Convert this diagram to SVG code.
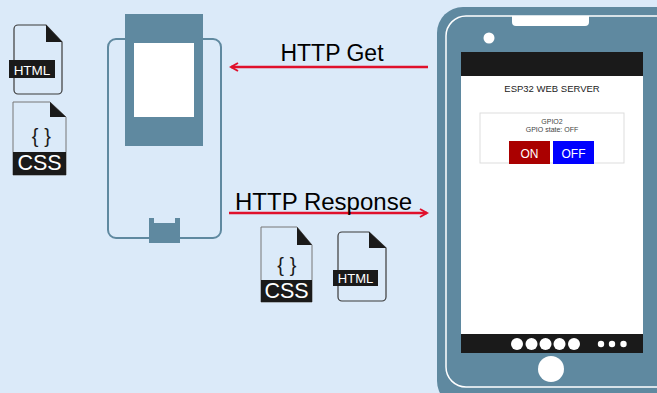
<svg xmlns="http://www.w3.org/2000/svg" width="657" height="393" viewBox="0 0 657 393">
  <style>
    .steel { fill: #5f89a0; }
    .icon-line { fill: none; stroke: #3a3a3a; stroke-width: 1.2; }
    .fold { fill: #1a1a1a; }
    .bar { fill: #1a1a1a; }
    .label-w { fill: #ffffff; font-family: "Liberation Sans", Arial, sans-serif; }
    .brace { fill: #1a1a1a; font-family: "Liberation Sans", Arial, sans-serif; font-size: 20px; }
    .http { fill: #000000; font-family: "Liberation Sans", Arial, sans-serif; font-size: 23px; }
    .arrow { stroke: #e0102c; stroke-width: 2.5; fill: none; }
    .ui { font-family: "Liberation Sans", Arial, sans-serif; }
  </style>
  <defs>
    <marker id="head" viewBox="0 0 10 10" refX="8" refY="5" markerWidth="4" markerHeight="4" orient="auto-start-reverse" markerUnits="strokeWidth">
      <path d="M1,1 L8,5 L1,9" fill="none" stroke="#e0102c" stroke-width="2"/>
    </marker>
  </defs>

  <rect width="657" height="393" fill="#dbeaf9"/>

  <!-- HTML file icon, top left -->
  <g id="html-icon-left">
    <path class="icon-line" d="M18,25 H46 L62,42 V90 a4,4 0 0 1 -4,4 H18 a4,4 0 0 1 -4,-4 V29 a4,4 0 0 1 4,-4 Z"/>
    <path class="fold" d="M46,25 L62,42 H46 Z"/>
    <rect class="bar" x="9" y="60" width="46" height="18"/>
    <text class="label-w" x="32" y="75" font-size="13.5" text-anchor="middle">HTML</text>
  </g>

  <!-- CSS file icon, left -->
  <g id="css-icon-left">
    <path d="M13,102 H50 L66,117 V175 H13 Z" fill="none" stroke="#777" stroke-width="1"/>
    <path class="fold" d="M50,102 L66,117 H50 Z"/>
    <text class="brace" x="35" y="143" text-anchor="middle">{</text>
    <text class="brace" x="47.5" y="143" text-anchor="middle">}</text>
    <rect class="bar" x="13" y="152" width="53" height="23"/>
    <text class="label-w" x="39.5" y="170" font-size="21.5" text-anchor="middle">CSS</text>
  </g>

  <!-- ESP32 board -->
  <g id="esp32-board">
    <rect x="108" y="39" width="113" height="199" rx="8" fill="none" stroke="#5f89a0" stroke-width="2"/>
    <rect class="steel" x="125" y="14" width="78" height="132"/>
    <rect x="134" y="43" width="60" height="74" fill="#ffffff"/>
    <path class="steel" d="M149,218 H154 V223 H175 V218 H180 V243 H149 Z"/>
  </g>

  <!-- Smartphone with web page -->
  <g id="phone">
    <rect class="steel" x="437" y="7" width="250" height="400" rx="26"/>
    <rect x="446" y="16" width="230" height="371" rx="20" fill="none" stroke="#ffffff" stroke-width="1.5"/>
    <path d="M512,16 H589 V22 a4,4 0 0 1 -4,4 H516 a4,4 0 0 1 -4,-4 Z" fill="#ffffff"/>
    <circle cx="489" cy="38" r="5.5" fill="#ffffff"/>
    <rect x="461" y="52" width="182" height="301" fill="#ffffff"/>
    <rect x="461" y="52" width="182" height="24" fill="#1a1a1a"/>
    <rect x="461" y="334" width="182" height="19" fill="#1a1a1a"/>
    <g fill="#ffffff">
      <circle cx="517" cy="344" r="6"/>
      <circle cx="531.5" cy="344" r="6"/>
      <circle cx="545.5" cy="344" r="6"/>
      <circle cx="559.5" cy="344" r="6"/>
      <circle cx="574" cy="344" r="6"/>
      <circle cx="601" cy="344" r="3.2"/>
      <circle cx="612" cy="344" r="3.2"/>
      <circle cx="623.5" cy="344" r="3.2"/>
    </g>
    <circle cx="551" cy="369" r="13" fill="#ffffff"/>

    <text class="ui" x="552" y="92" font-size="9.5" fill="#222" text-anchor="middle">ESP32 WEB SERVER</text>
    <rect x="480" y="113" width="144" height="50" fill="#ffffff" stroke="#dddddd" stroke-width="1"/>
    <text class="ui" x="552" y="124" font-size="7" fill="#444" text-anchor="middle">GPIO2</text>
    <text class="ui" x="552" y="131.5" font-size="7" fill="#444" text-anchor="middle">GPIO state: OFF</text>
    <rect x="509" y="141" width="41" height="23" fill="#aa0000"/>
    <text class="ui" x="529.5" y="158" font-size="12" fill="#ffffff" text-anchor="middle">ON</text>
    <rect x="553" y="141" width="41" height="23" fill="#0000ff"/>
    <text class="ui" x="573.5" y="158" font-size="12" fill="#ffffff" text-anchor="middle">OFF</text>
  </g>

  <!-- CSS file icon, response -->
  <g id="css-icon-response">
    <path d="M261,227 H297 L312,245 V302 H261 Z" fill="none" stroke="#777" stroke-width="1"/>
    <path class="fold" d="M297,227 L312,245 H297 Z"/>
    <text class="brace" x="280.5" y="272" text-anchor="middle">{</text>
    <text class="brace" x="293" y="272" text-anchor="middle">}</text>
    <rect class="bar" x="261" y="280" width="51" height="22"/>
    <text class="label-w" x="286.5" y="298" font-size="21.5" text-anchor="middle">CSS</text>
  </g>

  <!-- HTML file icon, response -->
  <g id="html-icon-response">
    <path class="icon-line" d="M342,232 H369 L386,248 V297 a4,4 0 0 1 -4,4 H342 a4,4 0 0 1 -4,-4 V236 a4,4 0 0 1 4,-4 Z"/>
    <path class="fold" d="M369,232 L386,248 H369 Z"/>
    <rect class="bar" x="333" y="270" width="45" height="16"/>
    <text class="label-w" x="355.5" y="283" font-size="13" text-anchor="middle">HTML</text>
  </g>

  <!-- Connectors -->
  <g id="connectors">
    <line class="arrow" x1="428" y1="67" x2="231" y2="67" marker-end="url(#head)"/>
    <text class="http" x="332" y="61" text-anchor="middle">HTTP Get</text>
    <line class="arrow" x1="229" y1="213" x2="427" y2="213" marker-end="url(#head)"/>
    <text class="http" x="235" y="210" style="font-size:24px" textLength="177" lengthAdjust="spacing">HTTP Response</text>
  </g>
</svg>
